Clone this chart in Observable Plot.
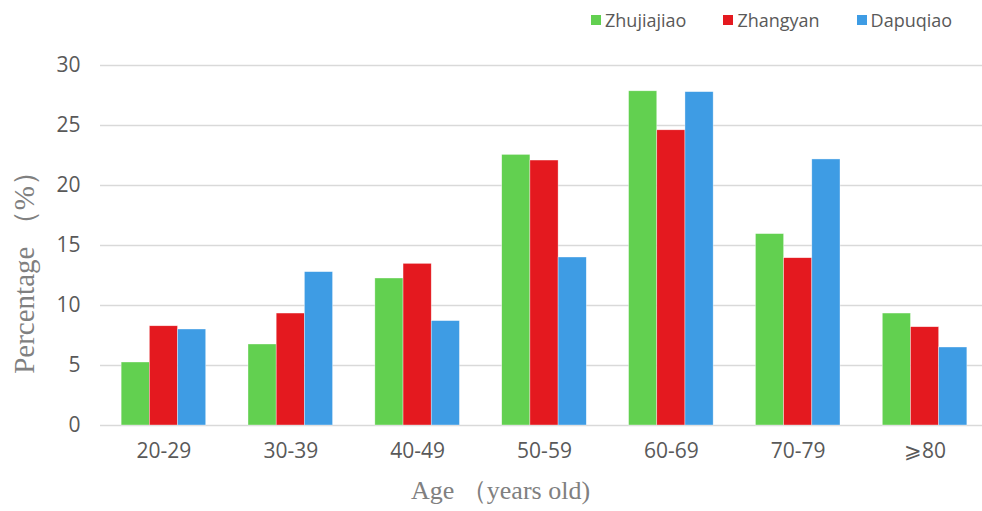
<!DOCTYPE html>
<html><head><meta charset="utf-8">
<script src="https://cdn.jsdelivr.net/npm/d3@7"></script>
<script src="https://cdn.jsdelivr.net/npm/@observablehq/plot@0.6"></script>
<style>
body{margin:0;background:#fff}
#wrap{width:982px;height:511px;position:relative;overflow:hidden;background:#fff}
#legend{height:40px;display:flex;align-items:center;padding-left:591px;gap:37px;font:18px "Open Sans";color:#595959;box-sizing:border-box}
#legend .item{display:flex;align-items:center}
#legend .sw{width:10px;height:10px;margin-right:4px}
#chart{position:relative;width:982px;height:431px}
#chart svg{position:absolute;left:0;top:0;display:block}
#caption{height:40px;padding-left:411px;font:26px "Liberation Serif";color:#808080;line-height:40px;box-sizing:border-box;white-space:pre}
</style>
</head><body>
<div id="wrap">
<div id="legend"></div>
<div id="chart"></div>
<div id="caption"></div>
</div>
<script>
const ages = ["20-29","30-39","40-49","50-59","60-69","70-79","⩾80"];
const series = ["Zhujiajiao","Zhangyan","Dapuqiao"];
const zhujiajiao = [5.25, 6.75, 12.25, 22.55, 27.85, 15.95, 9.33];
const zhangyan   = [8.27, 9.33, 13.47, 22.08, 24.6, 13.94, 8.19];
const dapuqiao   = [8.0, 12.78, 8.7, 14.0, 27.78, 22.17, 6.5];
const colors = ["#62D050","#E4191F","#3E9CE4"];
const yTicks = [0,5,10,15,20,25,30];
const yLabel = "Percentage （%）";
const xLabel = "Age （years old)";

const values = [zhujiajiao, zhangyan, dapuqiao];
const data = [];
ages.forEach((a,i)=>series.forEach((s,j)=>data.push({age:a, series:s, value:values[j][i]})));

const legend = document.getElementById("legend");
series.forEach((s,j)=>{
  const it = document.createElement("div"); it.className="item";
  it.innerHTML = `<span class="sw" style="background:${colors[j]}"></span><span>${s}</span>`;
  legend.appendChild(it);
});
document.getElementById("caption").textContent = xLabel;

const common = {
  width: 982,
  height: 431,
  marginTop: 25,
  marginBottom: 46,
  marginLeft: 100,
  marginRight: -6,
  y: {domain: [0,30], axis: null}
};

// background: gridlines, y axis and its title
const bg = Plot.plot({
  ...common,
  style: {fontFamily: "Open Sans", color: "#595959", background: "#fff"},
  marks: [
    Plot.ruleY(yTicks, {stroke: "#d9d9d9", strokeWidth: 1.5}),
    Plot.axisY({ticks: yTicks, tickSize: 0, tickPadding: 20, fontSize: 21, label: null}),
    Plot.text([yLabel], {frameAnchor: "left", rotate: -90, dx: -76, dy: 20, fontSize: 29,
      fontFamily: "Liberation Serif", fill: "#808080", textAnchor: "middle", lineAnchor: "middle"})
  ]
});

// foreground: grouped bars
const fg = Plot.plot({
  ...common,
  style: {fontFamily: "Open Sans", color: "#595959", background: "transparent"},
  fx: {domain: ages, paddingInner: 1/3, paddingOuter: 1/6, round: false, label: null},
  x: {domain: series, padding: 0, round: false, axis: null},
  color: {domain: series, range: colors},
  marks: [
    Plot.barY(data, {fx: "age", x: "series", y: "value", fill: "series", stroke: "#ffffff", strokeWidth: 0.6, strokeOpacity: 0.6}),
    Plot.axisFx({anchor: "bottom", tickSize: 0, tickPadding: 18, fontSize: 21, label: null})
  ]
});
const chart = document.getElementById("chart");
chart.appendChild(bg);
chart.appendChild(fg);
</script>
</body></html>
